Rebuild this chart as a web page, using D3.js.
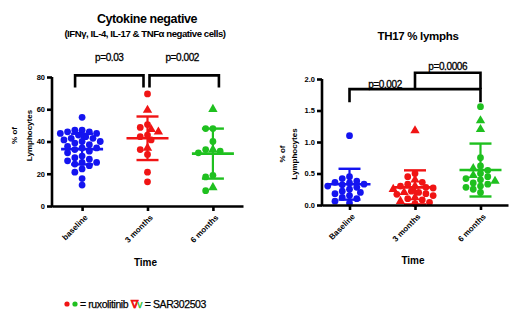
<!DOCTYPE html>
<html>
<head>
<meta charset="utf-8">
<script src="https://cdn.jsdelivr.net/npm/d3@7/dist/d3.min.js"></script>
<style>
  body { margin: 0; background: #fff; }
  svg { display: block; font-family: 'Liberation Sans', Arial, sans-serif; }
</style>
</head>
<body>
<div id="chart"></div>
<script>
// data
const cytoCategories = ['baseline', '3 months', '6 months'];
const th17Categories = ['Baseline', '3 months', '6 months'];
const groupColors = ['#1414f0', '#f01414', '#1fc01f'];

// Cytokine negative, % of lymphocytes (c = circle / ruxolitinib, t = triangle / SAR302503)
const cytoBaseline = [55, 47, 47, 46, 46, 45, 45, 44, 43, 42, 42, 41, 40, 40, 39, 38, 37, 36, 36,
  35, 34, 33, 31, 30, 29, 28, 27, 27, 26, 25, 23, 21, 17, 13];
const cytoBaselineShape = 'cccccccccccccccccccccccccccccccccc';
const cyto3m = [69.5, 59.5, 50.5, 48.7, 47.5, 46, 44, 43, 41, 36, 35, 32, 21, 15];
const cyto3mShape = 'ctcctt' + 'ccctcccc';
const cyto6m = [60, 48, 48, 40, 35, 35, 34, 33, 19, 18, 11.5, 9.5];
const cyto6mShape = 'tccctccccctc';
const cytoMeans = [35.3, 42, 32.5];
const cytoSD = [9.5, 13.5, 15.5];

// TH17 % lymphs
const th17Baseline = [1.1, 0.45, 0.42, 0.38, 0.36, 0.35, 0.33, 0.32, 0.3, 0.28, 0.25, 0.22, 0.2,
  0.18, 0.15, 0.12, 0.1, 0.06, 0.03];
const th17BaselineShape = 'ccccccccccccccccccc';
const th173m = [1.18, 0.5, 0.45, 0.4, 0.36, 0.33, 0.3, 0.3, 0.28, 0.27, 0.25, 0.22, 0.2, 0.2, 0.18,
  0.17, 0.15, 0.12, 0.1, 0.08, 0.06, 0.04, 0.02];
const th173mShape = 'tcctcctccctcctccctcctcc';
const th176m = [1.56, 1.34, 1.2, 0.75, 0.62, 0.58, 0.55, 0.5, 0.47, 0.45, 0.42, 0.4, 0.38, 0.35,
  0.33, 0.3, 0.28, 0.25, 0.2];
const th176mShape = 'cttcctcctccctcccccc';
const th17Means = [0.33, 0.28, 0.555];
const th17SD = [0.245, 0.27, 0.42];

const cytoTicks = [0, 20, 40, 60, 80];
const th17Ticks = [0, 0.5, 1.0, 1.5, 2.0];

const cytoBrackets = [
  {from: 0, to: 1, label: 'p=0.03'},
  {from: 1, to: 2, label: 'p=0.002'}
];
const th17Brackets = [
  {from: 0, to: 2, label: 'p=0.002'},
  {from: 1, to: 2, label: 'p=0.0006'}
];

const svg = d3.select('#chart').append('svg')
    .attr('width', 520)
    .attr('height', 323);

const swarm = (values, y, cx, r) => {
  const order = values.map((v, i) => i).sort((a, b) => values[b] - values[a]);
  const placed = [];
  const out = new Array(values.length);
  const step = r * 1.1;
  order.forEach((i) => {
    const py = y(values[i]);
    let px = cx;
    for (let k = 0; k < 60; k++) {
      const off = k === 0 ? 0 : (k % 2 ? -1 : 1) * Math.ceil(k / 2) * step;
      const test = cx + off;
      const hit = placed.some((p) => Math.hypot(p[0] - test, p[1] - py) < r * 1.8);
      if (!hit) { px = test; break; }
    }
    placed.push([px, py]);
    out[i] = [px, py];
  });
  return out;
};

const drawPanel = (o) => {
  const g = svg.append('g');
  const x = d3.scalePoint().domain(o.categories).range(o.xRange).padding(o.padding);
  const y = d3.scaleLinear().domain(o.yDomain).range(o.yRange);

  // points
  o.groups.forEach((vals, gi) => {
    const cx = x(o.categories[gi]);
    const pos = swarm(vals, y, cx, 3.3);
    const col = groupColors[gi];
    vals.forEach((v, i) => {
      const shape = o.shapes[gi][i] === 't' ? d3.symbolTriangle : d3.symbolCircle;
      const size = o.shapes[gi][i] === 't' ? 38 : 36;
      g.append('path')
          .attr('d', d3.symbol().type(shape).size(size)())
          .attr('transform', 'translate(' + pos[i][0] + ',' + pos[i][1] + ')')
          .attr('fill', col);
    });
    // mean and SD
    const m = o.means[gi];
    const s = o.sds[gi];
    g.append('line')
        .attr('x1', cx).attr('x2', cx)
        .attr('y1', y(m + s)).attr('y2', y(m - s))
        .attr('stroke', col).attr('stroke-width', 2.2);
    g.append('line')
        .attr('x1', cx - 21).attr('x2', cx + 21)
        .attr('y1', y(m)).attr('y2', y(m))
        .attr('stroke', col).attr('stroke-width', 2.6);
    [m + s, m - s].forEach((v) => {
      g.append('line')
          .attr('x1', cx - 11).attr('x2', cx + 11)
          .attr('y1', y(v)).attr('y2', y(v))
          .attr('stroke', col).attr('stroke-width', 2.4);
    });
  });

  // axes
  const yAxis = g.append('g')
      .attr('transform', 'translate(' + o.xRange[0] + ',0)')
      .call(d3.axisLeft(y).tickValues(o.ticks).tickFormat(o.tickFormat)
          .tickSize(5).tickSizeOuter(0).tickPadding(2));
  const xAxis = g.append('g')
      .attr('transform', 'translate(0,' + o.yRange[0] + ')')
      .call(d3.axisBottom(x).tickSize(5).tickSizeOuter(0).tickFormat(''));
  [yAxis, xAxis].forEach((a) => {
    a.selectAll('path, line').attr('stroke', '#000').attr('stroke-width', 2.6);
    a.selectAll('text').attr('fill', '#000').attr('font-size', 7.5)
        .attr('font-weight', 'bold');
  });
  yAxis.select('.domain').attr('d', 'M0,' + (o.yRange[0] + 1.3) + 'V' + o.yRange[1]);

  o.categories.forEach((c) => {
    g.append('text')
        .attr('transform', 'translate(' + (x(c) + 4) + ',' + (o.yRange[0] + 10) + ') rotate(-45)')
        .attr('text-anchor', 'end')
        .attr('dy', '0.35em')
        .attr('font-size', 8)
        .attr('font-weight', 'bold')
        .text(c);
  });

  // brackets
  o.brackets.forEach((b, bi) => {
    const bb = o.bracketLayout[bi];
    const x1 = x(o.categories[b.from]) + bb.dx1;
    const x2 = x(o.categories[b.to]) + bb.dx2;
    g.append('path')
        .attr('d', 'M' + x1 + ',' + y(bb.legL) + 'V' + y(bb.top) + 'H' + x2 + 'V' + y(bb.legR))
        .attr('fill', 'none')
        .attr('stroke', '#000')
        .attr('stroke-width', 2.6);
    g.append('text')
        .attr('x', (x1 + x2) / 2 + bb.tx)
        .attr('y', y(bb.top) + bb.ty)
        .attr('text-anchor', 'middle')
        .attr('font-size', 10)
        .attr('letter-spacing', -0.4)
        .attr('stroke', '#000').attr('stroke-width', 0.3)
        .text(b.label);
  });

  // axis titles
  const yMid = (o.yRange[0] + o.yRange[1]) / 2 + o.yTitleShift;
  g.append('text')
      .attr('transform', 'translate(' + o.yTitleX[0] + ',' + yMid + ') rotate(-90)')
      .attr('text-anchor', 'middle')
      .attr('font-size', 8).attr('font-weight', 'bold')
      .text('% of');
  g.append('text')
      .attr('transform', 'translate(' + o.yTitleX[1] + ',' + yMid + ') rotate(-90)')
      .attr('text-anchor', 'middle')
      .attr('font-size', 8).attr('font-weight', 'bold')
      .text('Lymphocytes');
  g.append('text')
      .attr('x', (o.xRange[0] + o.xRange[1]) / 2 - 2)
      .attr('y', o.timeY)
      .attr('text-anchor', 'middle')
      .attr('font-size', 10).attr('font-weight', 'bold')
      .text('Time');
  return g;
};

drawPanel({
  categories: cytoCategories,
  xRange: [52, 243],
  padding: 0.46,
  yDomain: [0, 80],
  yRange: [206, 77],
  ticks: cytoTicks,
  tickFormat: d3.format('d'),
  groups: [cytoBaseline, cyto3m, cyto6m],
  shapes: [cytoBaselineShape, cyto3mShape, cyto6mShape],
  means: cytoMeans,
  sds: cytoSD,
  brackets: cytoBrackets,
  bracketLayout: [
    {dx1: -7, dx2: -4, top: 81, legL: 73.5, legR: 73.5, tx: 0, ty: -14},
    {dx1: 2, dx2: 6, top: 81, legL: 73.5, legR: 73.5, tx: -2, ty: -14}
  ],
  yTitleX: [17, 32],
  yTitleShift: -6,
  timeY: 266
});

drawPanel({
  categories: th17Categories,
  xRange: [322, 508],
  padding: 0.42,
  yDomain: [0, 2],
  yRange: [205, 79],
  ticks: th17Ticks,
  tickFormat: d3.format('.1f'),
  groups: [th17Baseline, th173m, th176m],
  shapes: [th17BaselineShape, th173mShape, th176mShape],
  means: th17Means,
  sds: th17SD,
  brackets: th17Brackets,
  bracketLayout: [
    {dx1: 0, dx2: 0, top: 1.84, legL: 1.63, legR: 1.63, tx: -30, ty: -1},
    {dx1: 0, dx2: 0, top: 2.1, legL: 1.84, legR: 1.84, tx: 0, ty: -3}
  ],
  yTitleX: [285, 297],
  yTitleShift: 12,
  timeY: 264
});

// titles
svg.append('text').attr('x', 147).attr('y', 23).attr('text-anchor', 'middle')
    .attr('font-size', 12.5).attr('font-weight', 'bold').attr('letter-spacing', -0.4)
    .text('Cytokine negative');
svg.append('text').attr('x', 145).attr('y', 37).attr('text-anchor', 'middle')
    .attr('font-size', 9.6).attr('font-weight', 'bold').attr('letter-spacing', -0.45)
    .text('(IFNγ, IL-4, IL-17 & TNFα negative cells)');
svg.append('text').attr('x', 418).attr('y', 40).attr('text-anchor', 'middle')
    .attr('font-size', 11.5).attr('font-weight', 'bold').attr('letter-spacing', -0.3)
    .text('TH17 % lymphs');

// legend
const legend = svg.append('g');
legend.append('circle').attr('cx', 67).attr('cy', 304).attr('r', 2.6).attr('fill', groupColors[1]);
legend.append('circle').attr('cx', 75).attr('cy', 304).attr('r', 2.6).attr('fill', groupColors[2]);
const lt = legend.append('text').attr('x', 80).attr('y', 308)
    .attr('font-size', 10.5).attr('letter-spacing', -0.4)
    .attr('stroke', '#000').attr('stroke-width', 0.25);
lt.append('tspan').text('= ruxolitinib ');
lt.append('tspan').attr('fill', groupColors[1]).attr('stroke', groupColors[1])
    .attr('font-weight', 'bold').text('∇');
lt.append('tspan').attr('fill', groupColors[2]).attr('stroke', groupColors[2]).text('v');
lt.append('tspan').text(' = SAR302503');
</script>
</body>
</html>
